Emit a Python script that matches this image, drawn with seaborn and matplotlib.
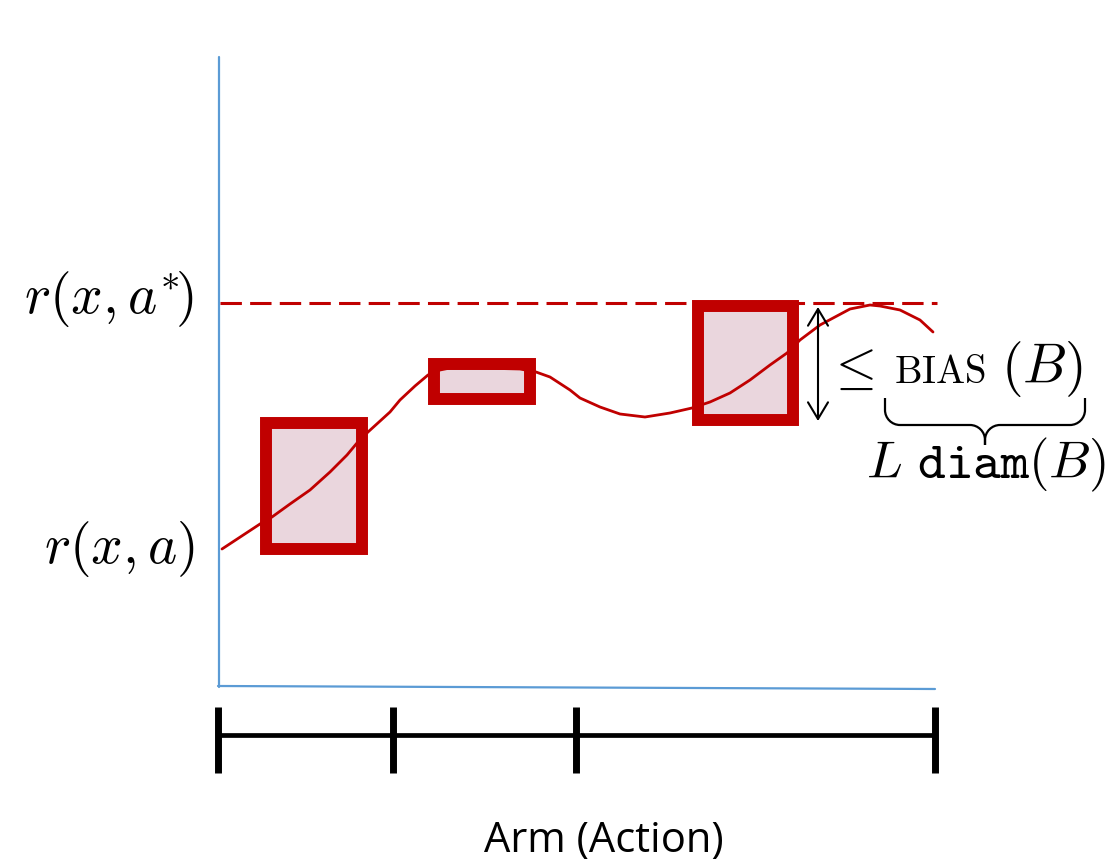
import numpy as np
import seaborn as sns
import matplotlib.pyplot as plt
from matplotlib.patches import Rectangle, PathPatch
from matplotlib.path import Path

# ---- data (arm position, reward), origin at axes corner ----
curve_arm = [4, 42, 54, 72, 92, 112, 129, 139, 150, 172, 182, 197, 210, 222, 232,
             262, 302, 318, 332, 352, 362, 382, 402, 427, 452, 474, 492, 512, 532,
             552, 569, 582, 602, 617, 632, 652, 662, 682, 702, 715]
curve_reward = [138, 163, 170, 183, 197, 215, 232, 244, 255, 275, 287, 301, 312, 317, 319,
                319, 318, 315, 310, 297, 289, 280, 273, 270, 274, 279, 285, 294, 307,
                322, 334, 347, 362, 370, 378, 382, 381, 377, 367, 355]

# boxes: arm start, arm end, reward low, reward high
box_arm_lo = [48, 216, 480]
box_arm_hi = [144, 312, 575]
box_rew_lo = [138, 288, 267]
box_rew_hi = [264, 323, 381]

best_reward = 384
arm_ticks = [0, 175, 358, 717]
bias_arrow = [266, 380]   # reward span of the bias arrow

red = '#c00000'
blue = '#5b9bd5'
pink = '#ead6dd'

sns.set_style('white')
plt.rcParams['mathtext.fontset'] = 'cm'
plt.rcParams['text.color'] = 'black'
plt.rcParams['font.family'] = ['Open Sans', 'DejaVu Sans']

fig = plt.figure(figsize=(11.12, 8.64), dpi=100)
ax = fig.add_axes([0, 0, 1, 1])
ax.set_xlim(-218, 894)
ax.set_ylim(-177, 687)
ax.axis('off')

# axes lines
ax.plot([1, 1], [0, 630], color=blue, lw=1.6)
ax.plot([0, 717], [1, -2], color=blue, lw=1.6)

# optimum dashed
ax.plot([2, 719], [best_reward, best_reward], color=red, lw=2.2, dashes=(7, 2.7))

# boxes
for x0, x1, y0, y1 in zip(box_arm_lo, box_arm_hi, box_rew_lo, box_rew_hi):
    ax.add_patch(Rectangle((x0, y0), x1 - x0, y1 - y0, facecolor=pink,
                           edgecolor=red, lw=8.6, joinstyle='miter', zorder=2))

# reward curve
sns.lineplot(x=curve_arm, y=curve_reward, sort=False, estimator=None,
             color=red, lw=2, ax=ax, zorder=3)

# bias arrow
ax.annotate('', xy=(600, bias_arrow[0]), xytext=(600, bias_arrow[1]),
            arrowprops=dict(arrowstyle='<->, head_length=0.3, head_width=0.18',
                            color='black', lw=1.5, mutation_scale=40,
                            shrinkA=0, shrinkB=0))

# underbrace
L, R, C, top, bar, tip, r = 667, 867, 767, 289, 262, 242, 15
verts, codes = [], []
for s in (1, -1):
    x_end = C - s * (C - L)
    verts += [(x_end, top), (x_end, bar + r), (x_end, bar + r * 0.45),
              (x_end + s * r * 0.45, bar), (x_end + s * r, bar),
              (C - s * r, bar), (C - s * r * 0.45, bar), (C, bar - r * 0.45),
              (C, bar - r), (C, tip)]
    codes += [Path.MOVETO, Path.LINETO, Path.CURVE4, Path.CURVE4, Path.CURVE4,
              Path.LINETO, Path.CURVE4, Path.CURVE4, Path.CURVE4, Path.LINETO]
ax.add_patch(PathPatch(Path(verts, codes), fill=False, lw=1.6, color='black'))

# labels
ax.text(632, 304, r'$\leq$', fontsize=38, va='baseline', ha='center')
ax.text(676, 304, r'$\mathrm{BIAS}$', fontsize=28, va='baseline', ha='left')
ax.text(865, 304, r'$(B)$', fontsize=40, va='baseline', ha='right')
ax.text(768, 209, r'$L\ \mathtt{diam}(B)$', fontsize=38, va='baseline', ha='center')
ax.text(-24, 374, r'$r(x,a^{*}\!)$', fontsize=40, va='baseline', ha='right')
ax.text(-23, 124, r'$r(x,a)$', fontsize=40, va='baseline', ha='right')

# arm partition scale
ax.hlines(-48, 0, 717, color='black', lw=3.4)
ax.vlines(arm_ticks, -86, -20, color='black', lw=5)
ax.text(386, -165, 'Arm (Action)', fontsize=30, ha='center', va='baseline')

fig.savefig('out.png', dpi=100)
